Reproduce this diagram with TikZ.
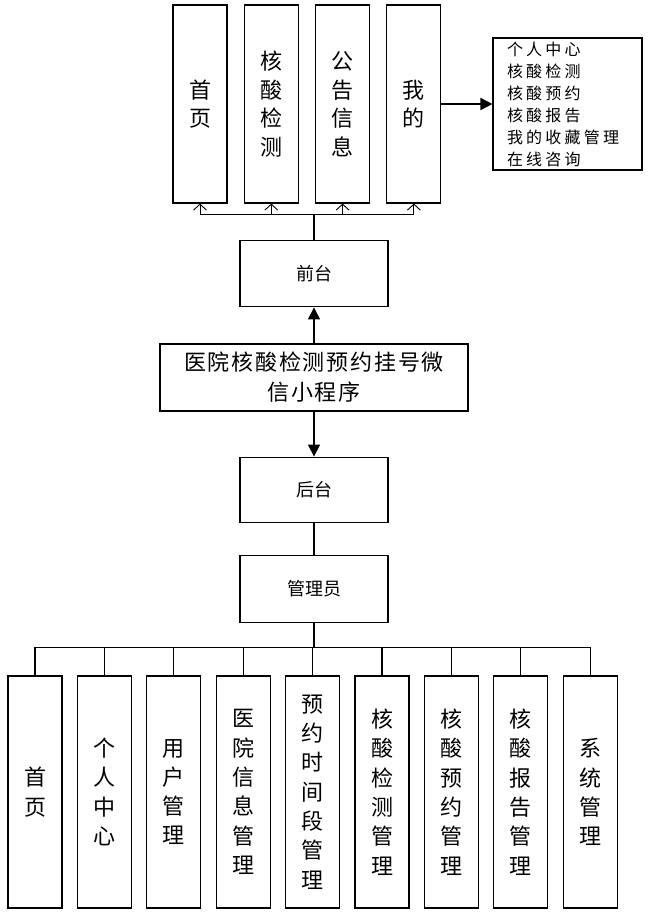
\documentclass[tikz,border=0pt]{standalone}
\usepackage{fontspec}
\usepackage{tikz}
\usetikzlibrary{arrows.meta, positioning, calc}
\newfontfamily\cjk{Noto Sans CJK SC}
\newfontfamily\cjkwide[LetterSpace=20]{Noto Sans CJK SC}
\newfontfamily\cjkmid[LetterSpace=8]{Noto Sans CJK SC}

\begin{document}
\begin{tikzpicture}[
    x=1pt, y=1pt,
    node distance=14.3pt and 14.3pt,
    tallbox/.style={rectangle, draw=black, fill=white, line width=1.1pt, minimum width=54pt, text width=30pt, align=center, inner sep=0pt},
    topbox/.style={tallbox, minimum height=198pt, font=\cjk\fontsize{22}{28.5}\selectfont},
    subbox/.style={tallbox, minimum height=232pt, font=\cjk\fontsize{22}{29.3}\selectfont},
    midbox/.style={rectangle, draw=black, fill=white, line width=1.1pt, minimum width=148pt, minimum height=66pt, align=center, inner sep=0pt, font=\cjk\fontsize{18}{20}\selectfont},
    listbox/.style={rectangle, draw=black, fill=white, line width=1.1pt, minimum width=149pt, minimum height=132pt, text width=121pt, inner xsep=14pt, inner ysep=0pt, align=left, font=\cjkwide\fontsize{16}{22}\selectfont},
    arrow/.style={-{Triangle[length=12pt,width=12pt]}, line width=1.6pt},
    tip/.style={-{Straight Barb[length=6pt,width=13pt]}, line width=0.9pt},
    link/.style={line width=1.1pt}
]
    \useasboundingbox (0,0) rectangle (653,-922);

    % Mini program and its two sides
    \node (app) [midbox, minimum width=308pt, minimum height=67pt, font=\cjkmid\fontsize{22}{30}\selectfont] at (314,-377.5) {医院核酸检测预约挂号微\\信小程序};
    \node (front) [midbox, above=36pt of app] {前台};
    \node (back) [midbox, minimum height=65pt, below=45pt of app] {后台};
    \node (admin) [midbox, minimum height=67pt, below=32pt of back] {管理员};

    % Front menu
    \node (h1) [topbox] at (200,-104) {首\\页};
    \node (h2) [topbox, right=16.2pt of h1] {核\\酸\\检\\测};
    \node (h3) [topbox, right=16.2pt of h2] {公\\告\\信\\息};
    \node (h4) [topbox, right=16.2pt of h3] {我\\的};
    \node (mine) [listbox, right=51pt of h4] {个人中心\\核酸检测\\核酸预约\\核酸报告\\我的收藏管理\\在线咨询};

    % Admin menu
    \node (m1) [subbox] at (35,-792) {首\\页};
    \node (m2) [subbox, right=of m1] {个\\人\\中\\心};
    \node (m3) [subbox, right=of m2] {用\\户\\管\\理};
    \node (m4) [subbox, right=of m3] {医\\院\\信\\息\\管\\理};
    \node (m5) [subbox, right=of m4] {预\\约\\时\\间\\段\\管\\理};
    \node (m6) [subbox, right=of m5] {核\\酸\\检\\测\\管\\理};
    \node (m7) [subbox, right=of m6] {核\\酸\\预\\约\\管\\理};
    \node (m8) [subbox, right=of m7] {核\\酸\\报\\告\\管\\理};
    \node (m9) [subbox, right=of m8] {系\\统\\管\\理};

    % Connections
    \draw [arrow] (app) -- (front);
    \draw [arrow] (app) -- (back);
    \draw [link] (back) -- (admin);
    \draw [arrow] (h4) -- (mine);

    \coordinate (fbus) at ($(front.north)+(0,26)$);
    \foreach \n in {h1,h2,h3,h4}
        \draw [tip] (fbus) -| (\n.south);
    \draw [line width=1.8pt] (front.north) -- (fbus);

    \coordinate (abus) at ($(admin.south)+(0,-25)$);
    \draw [line width=1.8pt] (admin.south) -- (abus);
    \foreach \n in {m1,m2,m3,m4,m5,m6,m7,m8,m9}
        \draw [link] (abus) -| (\n.north);
\end{tikzpicture}
\end{document}
